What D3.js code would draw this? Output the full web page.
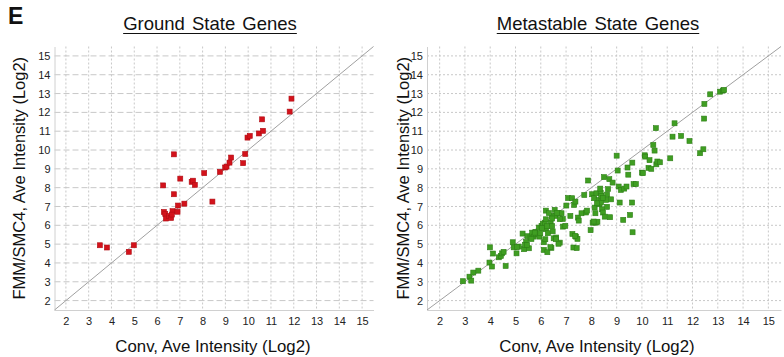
<!DOCTYPE html>
<html>
<head>
<meta charset="utf-8">
<script src="https://cdn.jsdelivr.net/npm/d3@7/dist/d3.min.js"></script>
<style>
  body { margin: 0; background: #fff; }
  svg { display: block; font-family: "Liberation Sans", Arial, sans-serif; }
</style>
</head>
<body>
<svg id="chart" width="784" height="357"></svg>
<script>
// ── Data ──────────────────────────────────────────────────────────────

const panelLabel = 'E';
const panelTitles = ['Ground State Genes', 'Metastable State Genes'];
const xAxisTitle = 'Conv, Ave Intensity (Log2)';
const yAxisTitle = 'FMM/SMC4, Ave Intensity (Log2)';
const tickValues = [2, 3, 4, 5, 6, 7, 8, 9, 10, 11, 12, 13, 14, 15];

// [conv, fmm] pairs
const groundPoints = [
  [3.49, 4.94], [3.80, 4.82], [4.76, 4.59], [4.98, 4.94],
  [6.27, 8.12], [6.30, 6.71], [6.36, 6.60], [6.39, 6.36], [6.53, 6.50],
  [6.62, 6.39], [6.68, 6.75], [6.65, 6.57], [6.74, 9.77], [6.74, 7.65],
  [6.90, 6.72], [6.92, 7.05], [7.02, 8.48], [7.20, 7.15], [7.52, 8.31],
  [7.58, 8.37], [7.66, 8.15], [8.07, 8.77], [8.43, 7.26], [8.76, 8.84],
  [8.99, 9.07], [9.05, 9.12], [9.18, 9.33], [9.25, 9.60], [9.78, 9.30],
  [9.87, 9.79], [9.97, 10.66], [10.07, 10.75], [10.47, 10.88], [10.65, 11.02],
  [10.61, 11.63], [11.82, 12.04], [11.90, 12.73]
];

const metastablePoints = [
  [2.92, 3.03], [3.18, 3.27], [3.25, 3.06], [3.33, 3.49], [3.53, 3.59],
  [3.99, 4.83], [3.97, 4.02], [4.07, 3.81], [4.11, 4.50], [4.34, 4.30],
  [4.42, 4.37], [4.47, 4.51], [4.53, 4.59], [4.61, 3.84],
  [4.89, 5.10], [4.93, 4.83], [5.04, 4.51], [5.13, 4.87], [5.28, 5.56],
  [5.34, 4.73], [5.42, 5.12], [5.47, 5.42], [5.53, 4.78], [5.59, 5.35],
  [5.66, 5.61], [5.72, 5.40], [5.79, 5.65], [5.82, 5.52], [5.88, 5.52],
  [5.92, 5.88], [5.95, 5.40], [6.03, 5.97], [6.08, 6.09], [6.12, 5.10],
  [6.16, 6.14], [6.20, 6.32], [6.12, 4.69], [6.18, 5.26], [6.21, 5.79],
  [6.26, 4.57], [6.28, 5.58], [6.20, 6.78], [6.39, 6.13], [6.42, 4.80],
  [6.45, 6.50], [6.47, 5.68], [6.51, 5.31], [6.58, 6.50], [6.61, 5.35],
  [6.71, 6.64], [6.75, 5.08], [6.82, 6.64], [6.87, 6.34], [6.88, 5.93],
  [6.97, 5.97], [7.01, 7.05], [7.08, 7.45], [7.17, 6.50], [7.24, 7.44],
  [7.25, 5.54], [7.29, 4.82], [7.32, 7.08], [7.37, 7.26], [7.39, 5.40],
  [7.45, 5.28], [7.47, 6.41], [7.50, 6.25], [7.61, 6.64], [7.72, 7.61],
  [7.79, 6.68], [7.83, 6.78], [7.87, 8.38], [7.97, 5.74], [8.03, 7.65],
  [8.05, 6.14], [8.11, 7.44], [8.13, 6.94], [8.16, 6.64], [8.18, 6.14],
  [8.20, 7.70], [8.24, 6.19], [8.26, 7.17], [8.29, 7.35], [8.32, 7.12],
  [8.37, 7.73], [8.39, 7.56], [8.42, 6.85], [8.46, 6.68], [8.50, 8.56],
  [8.53, 6.46], [8.58, 7.35], [8.62, 7.63], [8.66, 7.92], [8.71, 8.45],
  [8.74, 6.43], [8.78, 7.38], [8.84, 8.27],
  [9.00, 9.70], [9.04, 8.91], [9.08, 8.06], [9.12, 7.21], [9.17, 7.88],
  [9.26, 6.29], [9.30, 7.95], [9.39, 8.06], [9.43, 9.07], [9.46, 8.69],
  [9.53, 6.55], [9.61, 7.21], [9.62, 9.33], [9.63, 5.63], [9.67, 8.19],
  [9.76, 8.19], [10.00, 8.80], [10.04, 8.77], [10.11, 9.72], [10.13, 9.65],
  [10.26, 9.05], [10.30, 9.46], [10.37, 9.00], [10.45, 10.27], [10.50, 9.97],
  [10.55, 11.16], [10.57, 9.24], [10.61, 9.39], [10.71, 9.35], [11.12, 9.56],
  [11.21, 10.71], [11.29, 11.42], [11.55, 10.75], [11.88, 10.48], [12.30, 9.83],
  [12.43, 10.04], [12.46, 11.67], [12.47, 12.45], [12.70, 12.96], [13.09, 13.10],
  [13.20, 13.16], [13.25, 13.19],
  [5.06, 4.84], [5.37, 4.96], [5.46, 4.96], [5.63, 5.27], [5.76, 5.61],
  [5.98, 5.58], [6.05, 5.85], [6.25, 5.95], [6.32, 6.65], [6.55, 6.82],
  [6.64, 6.65], [6.75, 6.33], [6.45, 6.36], [6.45, 5.96], [6.38, 4.84],
  [6.60, 5.26], [6.70, 5.02], [7.36, 5.44], [7.42, 4.79], [8.38, 7.21],
  [8.22, 7.17], [8.62, 6.98], [8.09, 6.20], [8.45, 7.45], [8.35, 7.95]
];

// ── Layout ────────────────────────────────────────────────────────────

const DOMAIN = [1.5, 15.5];
const PLOT_TOP = 46.5;
const PLOT_BOTTOM = 310;
const MARK = 5;

const panels = [
  {
    title: panelTitles[0], points: groundPoints,
    fill: '#d3121b', stroke: '#b00d14',
    left: 54.5, right: 373.5, titleX: 210, xTitleX: 213, yTitleX: 19,
    hDash: '6,3', vDash: '2,2'
  },
  {
    title: panelTitles[1], points: metastablePoints,
    fill: '#3f9e22', stroke: '#2e7f17',
    left: 427, right: 781, titleX: 598, xTitleX: 597, yTitleX: 403,
    hDash: '2,2', vDash: '2,2'
  }
];

const svg = d3.select('#chart');

svg.append('text')
  .attr('x', 8)
  .attr('y', 24)
  .attr('font-size', '23px')
  .attr('font-weight', 'bold')
  .attr('fill', '#111')
  .text(panelLabel);

const y = d3.scaleLinear().domain(DOMAIN).range([PLOT_BOTTOM, PLOT_TOP]);

panels.forEach(p => {
  const x = d3.scaleLinear().domain(DOMAIN).range([p.left, p.right]);
  const g = svg.append('g');

  // Grid
  g.append('g').selectAll('line')
    .data(tickValues)
    .join('line')
    .attr('x1', p.left).attr('x2', p.right)
    .attr('y1', d => y(d)).attr('y2', d => y(d))
    .attr('stroke', '#c8c8c8')
    .attr('stroke-width', 1)
    .attr('stroke-dasharray', p.hDash);

  g.append('g').selectAll('line')
    .data(tickValues)
    .join('line')
    .attr('x1', d => x(d)).attr('x2', d => x(d))
    .attr('y1', PLOT_TOP).attr('y2', PLOT_BOTTOM)
    .attr('stroke', '#c8c8c8')
    .attr('stroke-width', 1)
    .attr('stroke-dasharray', p.vDash);

  // Axes
  const xAxis = g.append('g')
    .attr('transform', `translate(0,${PLOT_BOTTOM})`)
    .call(d3.axisBottom(x).tickValues(tickValues).tickSize(0).tickPadding(7));
  const yAxis = g.append('g')
    .attr('transform', `translate(${p.left},0)`)
    .call(d3.axisLeft(y).tickValues(tickValues).tickSize(0).tickPadding(4));

  [xAxis, yAxis].forEach(a => {
    a.select('.domain').attr('stroke', '#d0d0d0');
    a.selectAll('text')
      .attr('font-size', '11px')
      .attr('font-family', '"Liberation Sans Narrow", "Arial Narrow", "Liberation Sans", Arial, sans-serif')
      .attr('fill', '#222');
  });

  // Identity line
  g.append('line')
    .attr('x1', x(DOMAIN[0])).attr('y1', y(DOMAIN[0]))
    .attr('x2', x(DOMAIN[1])).attr('y2', y(DOMAIN[1]))
    .attr('stroke', '#a0a0a0')
    .attr('stroke-width', 1);

  // Points
  g.append('g').selectAll('rect')
    .data(p.points)
    .join('rect')
    .attr('x', d => x(d[0]) - MARK / 2)
    .attr('y', d => y(d[1]) - MARK / 2)
    .attr('width', MARK)
    .attr('height', MARK)
    .attr('fill', p.fill)
    .attr('stroke', p.stroke)
    .attr('stroke-width', 0.6);

  // Titles
  const t = svg.append('text')
    .attr('x', p.titleX)
    .attr('y', 30)
    .attr('text-anchor', 'middle')
    .attr('font-size', '18.5px')
    .attr('word-spacing', '2px')
    .attr('fill', '#111')
    .text(p.title);
  const tw = t.node().getComputedTextLength();
  svg.append('line')
    .attr('x1', p.titleX - tw / 2).attr('x2', p.titleX + tw / 2)
    .attr('y1', 33.5).attr('y2', 33.5)
    .attr('stroke', '#111')
    .attr('stroke-width', 1);

  svg.append('text')
    .attr('x', p.xTitleX)
    .attr('y', 352)
    .attr('text-anchor', 'middle')
    .attr('font-size', '16.8px')
    .attr('fill', '#111')
    .text(xAxisTitle);

  svg.append('text')
    .attr('transform', `translate(${p.yTitleX},${(PLOT_TOP + PLOT_BOTTOM) / 2}) rotate(-90)`)
    .attr('text-anchor', 'middle')
    .attr('dy', '0.35em')
    .attr('font-size', '16.5px')
    .attr('fill', '#111')
    .text(yAxisTitle);
});
</script>
</body>
</html>
